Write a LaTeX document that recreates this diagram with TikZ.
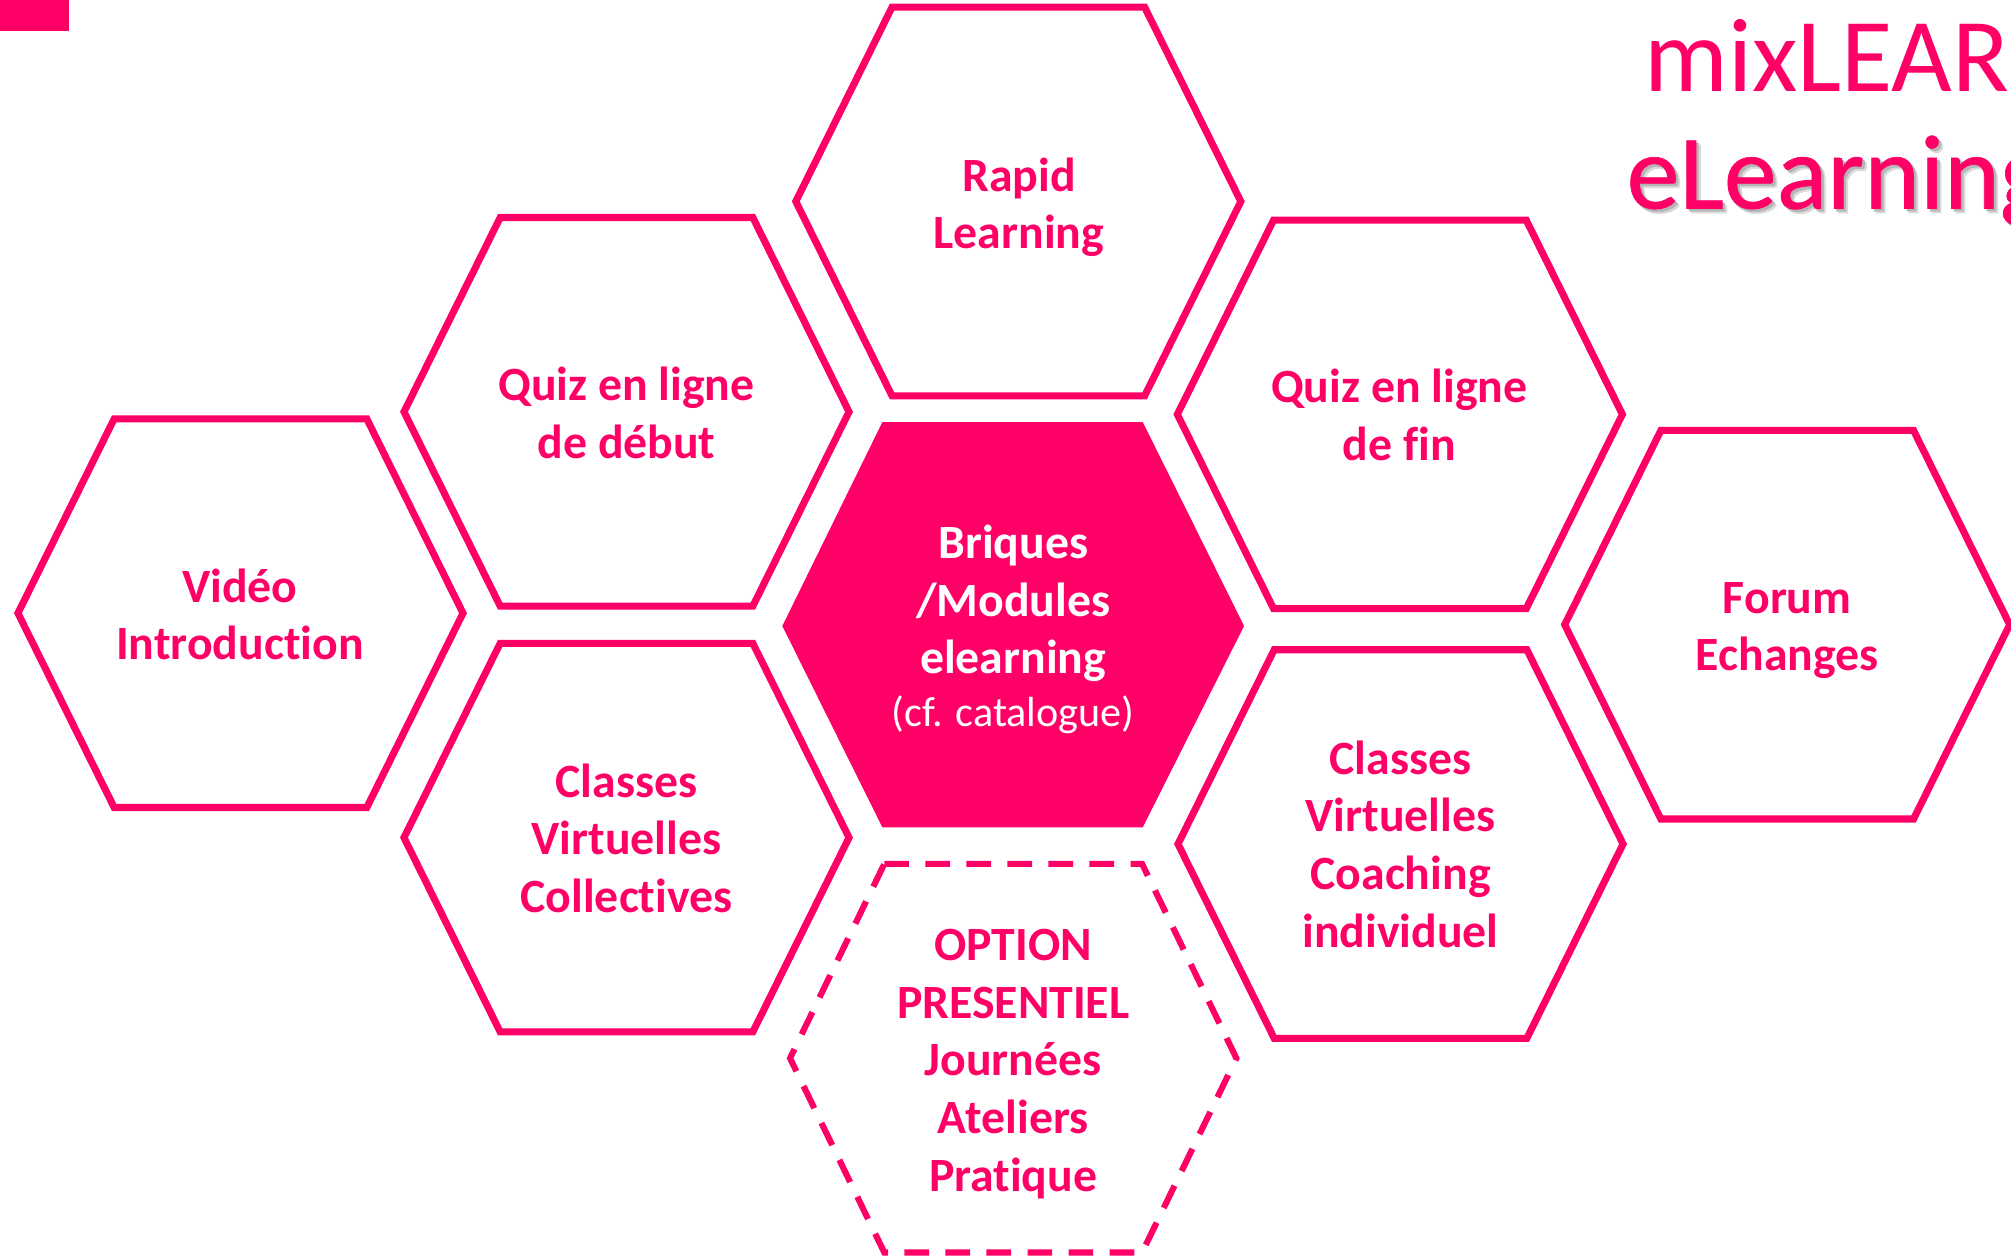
\documentclass[tikz,border=0pt]{standalone}
\usepackage{fontspec}
\setmainfont[Ligatures=NoCommon,Contextuals=NoAlternate]{Carlito}
\newfontfamily\ttlfat[FakeBold=0.6,Ligatures=NoCommon]{Carlito}
\newfontfamily\ttlreg[Ligatures=NoCommon]{Carlito}
\definecolor{mixpink}{HTML}{FF0066}
\definecolor{shadowa}{HTML}{DADADA}
\definecolor{shadowb}{HTML}{B5B5B5}
\tikzset{
  hexa/.style={draw=mixpink,line width=0.11cm,line join=miter},
  hexdash/.style={draw=mixpink,line width=0.095cm,line join=miter,dash pattern=on 0.385cm off 0.255cm},
  lab/.style={align=center,text=mixpink,font=\fontsize{21.2}{25.6}\selectfont\bfseries,inner sep=0pt},
  labw/.style={lab,text=white},
  ttl/.style={anchor=base west,inner sep=0pt,text=mixpink}
}
\newcommand{\hexat}[7]{% style, name, cx, cy(from top), half width, half top, half height
  \coordinate (#2-a) at ({#3-#5},{979-#4});
  \coordinate (#2-b) at ({#3-#6},{979-#4+#7});
  \coordinate (#2-c) at ({#3+#6},{979-#4+#7});
  \coordinate (#2-d) at ({#3+#5},{979-#4});
  \coordinate (#2-e) at ({#3+#6},{979-#4-#7});
  \coordinate (#2-f) at ({#3-#6},{979-#4-#7});
  \draw[#1] (#2-b)--(#2-c)--(#2-d)--(#2-e)--(#2-f)--(#2-a)--cycle;
}
\begin{document}
\begin{tikzpicture}[x=0.02cm,y=0.02cm]
\useasboundingbox (0,0) rectangle (1568,978.6);
\clip (0,0) rectangle (1568,978.6);
\fill[mixpink] (0,954.4) rectangle (54,979);
\hexat{hexa}{rapid}{794}{157.5}{173.5}{98.5}{151.5}
\hexat{hexa}{qdeb}{488.5}{321.5}{173.5}{98.5}{151.5}
\hexat{hexa}{qfin}{1091.5}{323.5}{173.5}{98.5}{151.5}
\hexat{hexa}{video}{187.5}{478.5}{173.5}{98.5}{151.5}
\hexat{hexa}{forum}{1393.5}{487.5}{173.5}{98.5}{151.5}
\hexat{hexa}{classes}{488.5}{653.5}{173.5}{98.5}{151.5}
\hexat{hexa}{coach}{1092}{658.5}{173.5}{98.5}{151.5}
\hexat{hexdash}{opt}{790}{825.5}{174}{100.5}{151.5}
\fill[mixpink] (610,490.5) -- (688,649.5) -- (891,649.5) -- (970,490.5) -- (891,333.5) -- (688,333.5) -- cycle;
\node[lab] (nrapid) at (794.5,817) {Rapid\\Learning};
\node[lab] (nqdeb) at (488.5,656.5) {Quiz en ligne\\de début};
\node[lab] (nqfin) at (1091,655) {Quiz en ligne\\de fin};
\node[lab] (nvideo) at (187,499.5) {Vidéo\\Introduction};
\node[lab] (nforum) at (1393.5,487) {Forum\\Echanges};
\node[lab] (nclasses) at (488.5,325) {Classes\\Virtuelles\\Collectives};
\node[lab] (ncoach) at (1092,320.5) {Classes\\Virtuelles\\Coaching\\individuel};
\node[lab] (nopt) at (790,149) {OPTION\\PRESENTIEL\\Journées\\Ateliers\\Pratique};
\node[labw] (nbriq) at (790,488) {Briques\\/Modules\\elearning\\[-0.08cm]{\fontsize{18.7}{22}\selectfont\mdseries (cf. catalogue)}};
\node[ttl,font=\fontsize{46.5}{56}\selectfont\ttlreg] (t1) at (1282,907) {mixLEARN};
\node[ttl,font=\fontsize{47}{56}\selectfont\ttlfat,text=shadowa] (t2sa) at (1271.5,812.5) {eLearning};
\node[ttl,font=\fontsize{47}{56}\selectfont\ttlfat,text=shadowb] (t2sb) at (1270,814) {eLearning};
\node[ttl,font=\fontsize{47}{56}\selectfont\ttlfat] (t2) at (1268,816) {eLearning};
\end{tikzpicture}
\end{document}
